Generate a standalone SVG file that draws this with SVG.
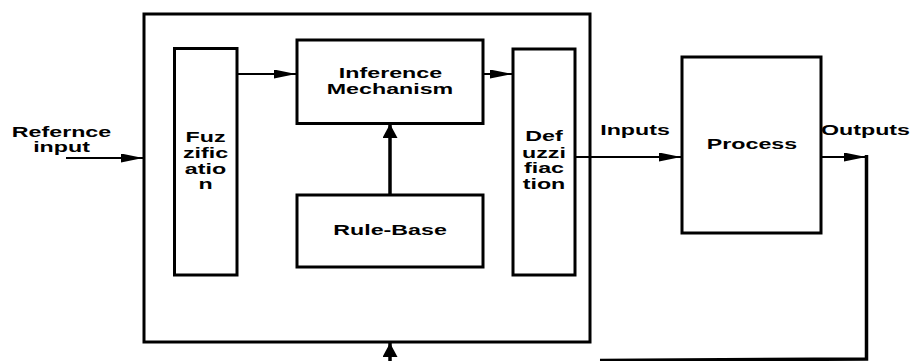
<svg xmlns="http://www.w3.org/2000/svg" width="914" height="361" viewBox="0 0 914 361">
<defs>
<marker id="ah" markerUnits="userSpaceOnUse" markerWidth="22" markerHeight="9" refX="22" refY="4.5" orient="auto"><path d="M0,0 L22,4.5 L0,9 z" fill="#000"/></marker>
<marker id="ahb" markerUnits="userSpaceOnUse" markerWidth="14" markerHeight="15" refX="14" refY="7.5" orient="auto"><path d="M0,0 L14,7.5 L0,15 z" fill="#000"/></marker>
</defs>
<style>
.box{fill:#fff;stroke:#000;stroke-width:3}
.ln{fill:none;stroke:#000;stroke-width:2}
.lb{fill:none;stroke:#000;stroke-width:3.5}
text{font-family:"Liberation Sans",Arial,sans-serif;font-weight:bold;font-size:14px;fill:#000;text-anchor:middle}
</style>
<rect width="914" height="361" fill="#fff"/>
<g id="controller"><rect class="box" x="144" y="14" width="446" height="328"/></g>
<g id="fuzzification"><rect class="box" x="174.5" y="48.5" width="62.5" height="226.5"/>
<text transform="translate(205.5,141.7) scale(1.66,1)">Fuz</text>
<text transform="translate(205.5,158) scale(1.66,1)">zific</text>
<text transform="translate(205.5,174) scale(1.66,1)">atio</text>
<text transform="translate(205.5,188.5) scale(1.66,1)">n</text></g>
<g id="inference"><rect class="box" x="297" y="40" width="186" height="83.5"/>
<text transform="translate(390.5,78) scale(1.66,1)">Inference</text>
<text transform="translate(390,94.3) scale(1.66,1)">Mechanism</text></g>
<g id="rulebase"><rect class="box" x="297" y="195" width="186" height="72"/>
<text transform="translate(390,235) scale(1.66,1)">Rule-Base</text></g>
<g id="defuzzification"><rect class="box" x="513" y="49" width="62" height="226"/>
<text transform="translate(544,140.7) scale(1.66,1)">Def</text>
<text transform="translate(544,157.5) scale(1.66,1)">uzzi</text>
<text transform="translate(544,173.3) scale(1.66,1)">fiac</text>
<text transform="translate(544,189) scale(1.66,1)">tion</text></g>
<g id="process"><rect class="box" x="682" y="57" width="139" height="176"/>
<text transform="translate(752,149) scale(1.66,1)">Process</text></g>
<g id="labels">
<text transform="translate(61.5,136.7) scale(1.66,1)">Refernce</text>
<text transform="translate(61.5,152) scale(1.66,1)">input</text>
<text transform="translate(635,135) scale(1.66,1)">Inputs</text>
<text transform="translate(865.5,135) scale(1.66,1)">Outputs</text>
</g>
<g id="connectors">
<line class="ln" x1="66" y1="158" x2="143" y2="158" marker-end="url(#ah)"/>
<line class="ln" x1="237" y1="74" x2="296" y2="74" marker-end="url(#ah)"/>
<line class="ln" x1="483" y1="74" x2="512" y2="74" marker-end="url(#ah)"/>
<line class="ln" x1="575" y1="157" x2="681" y2="157" marker-end="url(#ah)"/>
<line class="ln" x1="821" y1="157" x2="866" y2="157" marker-end="url(#ah)"/>
<line class="lb" x1="390" y1="195" x2="390" y2="124" marker-end="url(#ahb)"/>
<polyline class="lb" points="866.5,155 866.5,359 600,360.5"/>
<line class="lb" x1="390" y1="362" x2="390" y2="343" marker-end="url(#ahb)"/>
</g>
</svg>
